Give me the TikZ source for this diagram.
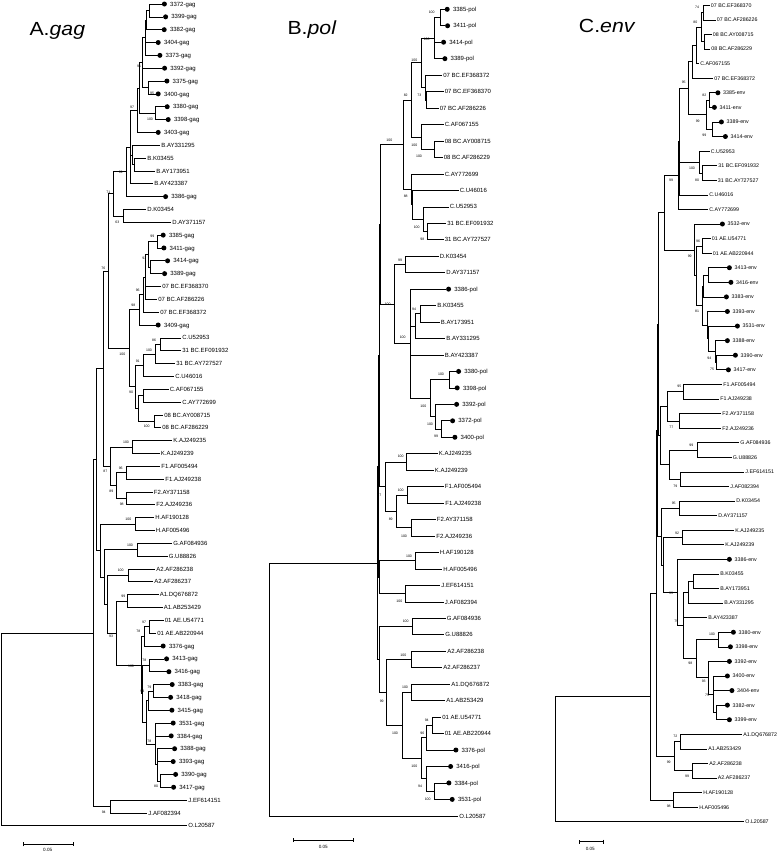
\documentclass[tikz,border=0pt]{standalone}
\usepackage{fontspec}
\setmainfont{Liberation Sans}
\usetikzlibrary{calc,arrows.meta}

\tikzset{
  br/.style={line width=0.65pt},
  lfa/.style={anchor=west,inner sep=0pt,text height=4.3pt,text depth=0pt,font=\fontsize{6}{6}\selectfont},
  lfc/.style={lfa,text height=3.8pt,font=\fontsize{5.3}{5.3}\selectfont},
  bs/.style={inner sep=0pt,font=\fontsize{3.5}{3.5}\selectfont},
  sc/.style={inner sep=0pt,font=\fontsize{4.6}{4.6}\selectfont},
  dot/.style={circle,fill,inner sep=0pt,minimum size=5pt},
  ttl/.style={anchor=base west,inner sep=0pt,font=\fontsize{19}{19}\selectfont},
  bar/.style={br,{Bar[width=4pt]}-{Bar[width=4pt]}},
}

% clade: name, x of the node, children (first to last)
\newcommand\clade[3]{%
  \foreach \cld [count=\k] in {#3}{\ifnum\k=1 \xdef\cfirst{\cld}\fi\xdef\clast{\cld}}%
  \path ($(\cfirst)!.5!(\clast)$) coordinate (cmid);
  \coordinate (#1) at (#2,0 |- cmid);
  \foreach \cld in {#3}{\draw[br] (#1) |- (\cld);}%
}

\begin{document}
\begin{tikzpicture}[x=1pt,y=-1pt]
\useasboundingbox (0,0) rectangle (777,852);

\node[ttl] (ta) at (29.3,35) {\scalebox{1.12}[1]{A.\textit{gag}}};
\node[ttl] (tb) at (287.3,34.3) {\scalebox{1.12}[1]{B.\textit{pol}}};
\node[ttl] (tc) at (578.7,32.3) {\scalebox{1.12}[1]{C.\textit{env}}};

% A. gag
\foreach \x/\t/\d [count=\i] in {162/3372-gag/1, 163.2/3399-gag/1, 161.8/3382-gag/1, 155.8/3404-gag/1,
  157.5/3373-gag/1, 162.2/3392-gag/1, 164.5/3375-gag/1, 155.8/3400-gag/1, 164.8/3380-gag/1,
  165.8/3398-gag/1, 155.8/3403-gag/1, 160/B.AY331295/0, 146/B.K03455/0, 155/B.AY173951/0,
  153/B.AY423387/0, 163.2/3386-gag/1, 146/D.K03454/0, 171/D.AY371157/0, 160.8/3385-gag/1,
  161.5/3411-gag/1, 165.2/3414-gag/1, 162.2/3389-gag/1, 161/07 BC.EF368370/0, 157/07 BC.AF286226/0,
  159/07 BC.EF368372/0, 155.8/3409-gag/1, 181/C.U52953/0, 181/31 BC.EF091932/0, 175/31 BC.AY727527/0,
  174/C.U46016/0, 168.5/C.AF067155/0, 181/C.AY772699/0, 163/08 BC.AY008715/0, 161/08 BC.AF286229/0,
  172/K.AJ249235/0, 159.5/K.AJ249239/0, 160/F1.AF005494/0, 164/F1.AJ249238/0, 152.5/F2.AY371158/0,
  155/F2.AJ249236/0, 154/H.AF190128/0, 154.5/H.AF005496/0, 172/G.AF084936/0, 167.5/G.U88826/0,
  155/A2.AF286238/0, 153/A2.AF286237/0, 158.5/A1.DQ676872/0, 162.5/A1.AB253429/0,
  163.5/01 AE.U54771/0, 156/01 AE.AB220944/0, 160.8/3376-gag/1, 164.2/3413-gag/1, 166.5/3416-gag/1,
  169.8/3383-gag/1, 168.2/3418-gag/1, 169.5/3415-gag/1, 170.8/3531-gag/1, 168.8/3384-gag/1,
  172.2/3388-gag/1, 170.8/3393-gag/1, 173.2/3390-gag/1, 171.2/3417-gag/1, 187/J.EF614151/0,
  147/J.AF082394/0, 187/O.L20587/0} {
  \coordinate (a\i) at (\x,{4+(\i-1)*12.84});
  \ifnum\d=1
    \node[dot] (da\i) at ([xshift=2.4pt]a\i) {};
    \node[lfa,xshift=8pt] (la\i) at (a\i) {\t};
  \else
    \node[lfa,xshift=1.2pt] (la\i) at (a\i) {\t};
  \fi
}
\clade{an1}{149}{a1,a2}
\clade{an2}{146.7}{an1,a3}
\clade{an3}{145.3}{an2,a4,a5}
\clade{an5}{148}{a7,a8}
\clade{an4}{142.7}{an3,a6,an5}
\clade{an8}{155.7}{a9,a10}
\clade{an9}{139.3}{an4,an8}
\clade{an10}{137.7}{an9,a11}
\clade{anb1}{134.3}{a13,a14}
\clade{anb2}{132.3}{a12,anb1}
\clade{an11}{130}{an10,anb2,a15}
\clade{an12}{126.7}{an11,a16}
\clade{adg}{123.3}{a17,a18}
\clade{an13}{113.3}{an12,adg}
\clade{anc1}{157.7}{a19,a20}
\clade{anc2}{150}{a21,a22}
\clade{anc3}{148}{anc1,anc2}
\clade{anc4}{145.7}{anc3,a23,a24}
\clade{anc5}{143.3}{anc4,a25}
\clade{anc6}{139.3}{anc5,a26}
\clade{acc1}{160}{a27,a28}
\clade{acc2}{155.7}{acc1,a29}
\clade{acc3}{143.3}{acc2,a30}
\clade{acc4}{143.3}{a31,a32}
\clade{acc5}{154.3}{a33,a34}
\clade{acc6}{138.7}{acc4,acc5}
\clade{acc7}{135.3}{acc3,acc6}
\clade{abc}{129}{anc6,acc7}
\clade{an14}{108.3}{an13,abc}
\clade{ak}{132.3}{a35,a36}
\clade{af1}{126}{a37,a38}
\clade{af2}{126.7}{a39,a40}
\clade{af}{116.7}{af1,af2}
\clade{akf}{110}{ak,af}
\clade{an15}{103}{an14,akf}
\clade{ah}{135.7}{a41,a42}
\clade{ag}{137.3}{a43,a44}
\clade{aa2}{128.3}{a45,a46}
\clade{aa1}{127.7}{a47,a48}
\clade{aae}{149.3}{a49,a50}
\clade{aae2}{144.3}{aae,a51}
\clade{as1}{149}{a52,a53}
\clade{as2}{153.3}{a54,a55}
\clade{as3}{148}{as2,a56}
\clade{as5}{160.7}{a61,a62}
\clade{as6}{157}{a59,a60,as5}
\clade{as7}{155}{a57,a58,as6}
\clade{as8}{146}{as3,as7}
\clade{as9}{142.5}{as1,as8}
\clade{aael}{141.7}{aae2,as9}
\clade{aa1ae}{116.7}{aa1,aael}
\clade{aa12}{107}{aa2,aa1ae}
\clade{aga}{104.7}{ag,aa12}
\clade{alow}{100.7}{ah,aga}
\clade{amain}{96.7}{an15,alow}
\clade{aj}{110}{a63,a64}
\clade{ain}{93.3}{amain,aj}
\clade{aroot}{1}{ain,a65}
\foreach \x/\y/\t [count=\i] in {139/66.7/91, 152/93.3/95, 150/119/100, 132/107.3/97, 120.7/172.3/99,
  108.3/192.3/71, 117.3/222/63, 152.3/236.7/99, 144.3/258.3/93, 137.7/290.7/96, 133.3/305.7/98,
  122.3/354/100, 103.3/268.3/76, 154/340/86, 149/350/100, 137.7/361/91, 131/392.3/90,
  146.7/426.7/100, 126/442.7/100, 105.3/471.7/87, 120.7/468.7/96, 111.3/491.3/89, 121.7/504.3/98,
  128.3/519.3/100, 130/545/100, 120.7/570.7/100, 123.3/596.7/99, 144/622.3/97, 138.3/631.7/78,
  111/636.7/93, 131/666.7/100, 144.3/660.7/78, 149.3/687.3/79, 142.3/691.7/94, 149.3/741.7/78,
  156/786.7/80, 103.7/812.7/94}
  \node[bs] (bsa\i) at (\x,\y) {\t};
\coordinate (sa1) at (23.3,844.3);
\coordinate (sa2) at (73.3,844.3);
\draw[bar] (sa1) -- (sa2);
\node[sc] (sla) at (47.7,849.5) {0.05};

% B. pol
\foreach \x/\t/\d [count=\i] in {444.8/3385-pol/1, 445.2/3411-pol/1, 441.2/3414-pol/1, 442.5/3389-pol/1,
  442/07 BC.EF368372/0, 443.5/07 BC.EF368370/0, 438.5/07 BC.AF286226/0, 443.5/C.AF067155/0,
  443.5/08 BC.AY008715/0, 442.5/08 BC.AF286229/0, 443.5/C.AY772699/0, 458.5/C.U46016/0,
  448.5/C.U52953/0, 446/31 BC.EF091932/0, 443.5/31 BC.AY727527/0, 438.5/D.K03454/0,
  445/D.AY371157/0, 446.2/3386-pol/1, 436/B.K03455/0, 439.5/B.AY173951/0, 445/B.AY331295/0,
  443.5/B.AY423387/0, 456.2/3380-pol/1, 454.8/3398-pol/1, 454.2/3392-pol/1, 450.2/3372-pol/1,
  452.5/3400-pol/1, 437.5/K.AJ249235/0, 433.5/K.AJ249239/0, 443.5/F1.AF005494/0, 444/F1.AJ249238/0,
  435.5/F2.AY371158/0, 435/F2.AJ249236/0, 438.5/H.AF190128/0, 442/H.AF005496/0, 440/J.EF614151/0,
  443.5/J.AF082394/0, 445.5/G.AF084936/0, 444/G.U88826/0, 446/A2.AF286238/0, 442/A2.AF286237/0,
  450/A1.DQ676872/0, 445/A1.AB253429/0, 441/01 AE.U54771/0, 443.5/01 AE.AB220944/0,
  453.5/3376-pol/1, 448.2/3416-pol/1, 446.5/3384-pol/1, 449.8/3531-pol/1, 458/O.L20587/0} {
  \coordinate (b\i) at (\x,{9.3+(\i-1)*16.46});
  \ifnum\d=1
    \node[dot] (db\i) at ([xshift=2.4pt]b\i) {};
    \node[lfa,xshift=8pt] (lb\i) at (b\i) {\t};
  \else
    \node[lfa,xshift=1.2pt] (lb\i) at (b\i) {\t};
  \fi
}
\clade{bp1}{440}{b1,b2}
\clade{bp2}{434}{bp1,b3,b4}
\clade{bp3a}{426.7}{b6,b7}
\clade{bp3}{425.3}{b5,bp3a}
\clade{bp4}{421.7}{bp2,bp3}
\clade{bp5}{434}{b9,b10}
\clade{bp6}{421.7}{b8,bp5}
\clade{bp7}{411.7}{bp4,bp6}
\clade{bp8}{427.7}{b14,b15}
\clade{bp9}{423.3}{b13,bp8}
\clade{bp10}{412.3}{b12,bp9}
\clade{bp11}{411}{b11,bp10}
\clade{bp12}{403.3}{bp7,bp11}
\clade{bdg}{405.7}{b16,b17}
\clade{bk}{420}{b19,b20}
\clade{bk2}{415.7}{bk,b21}
\clade{bq1}{449}{b23,b24}
\clade{bq2}{441}{b26,b27}
\clade{bq3}{435.7}{b25,bq2}
\clade{bq4}{430}{bq1,bq3}
\clade{bb}{410}{b18,bk2,b22,bq4}
\clade{bdb}{394.3}{bdg,bb}
\clade{bp13}{380}{bp12,bdb}
\clade{bkk}{406.7}{b28,b29}
\clade{bf1}{407.7}{b30,b31}
\clade{bf2}{411}{b32,b33}
\clade{bf}{396}{bf1,bf2}
\clade{bkf}{385}{bkk,bf}
\clade{bu}{379.3}{bp13,bkf}
\clade{bh}{415.3}{b34,b35}
\clade{bj}{405.7}{b36,b37}
\clade{bhj}{379.3}{bh,bj}
\clade{bx}{378.7}{bu,bhj}
\clade{bg}{412.7}{b38,b39}
\clade{ba2}{411}{b40,b41}
\clade{ba1}{411.7}{b42,b43}
\clade{bae1}{432.3}{b44,b45}
\clade{bae2}{426.7}{bae1,b46}
\clade{bq5}{434}{b48,b49}
\clade{bq6}{426.7}{b47,bq5}
\clade{bq7}{421.7}{bae2,bq6}
\clade{ba1ae}{402.3}{ba1,bq7}
\clade{ba12}{386.7}{ba2,ba1ae}
\clade{bga}{379}{bg,ba12}
\clade{bin}{377.7}{bx,bga}
\clade{broot}{269}{bin,b50}
\foreach \x/\y/\t [count=\i] in {431.7/12.7/100, 426.7/39.3/100, 419.3/95/73, 414.3/60/100,
  419/156.7/100, 414.3/145.7/100, 405.7/95.7/82, 416.7/227.3/100, 422.3/239.3/98, 405.7/196.7/88,
  389.3/140/100, 400/260/99, 414/309/94, 441/374.3/100, 430/424/100, 436/436.7/99, 423.3/406/100,
  402.7/337.3/100, 387.7/304.3/100, 400.7/456.7/100, 400.7/490/100, 404/536/100, 390.7/519.3/89,
  379.3/495/87, 409/556/100, 399.3/601/100, 405.7/621.7/100, 403.3/655/100, 405/687.7/100,
  426.7/720/94, 422.3/733.3/96, 427.7/799.3/100, 420/786.7/94, 414.3/766.7/100, 395/733.3/100,
  381.7/701.7/99}
  \node[bs] (bsb\i) at (\x,\y) {\t};
\coordinate (sb1) at (293.3,840);
\coordinate (sb2) at (353.3,840);
\draw[bar] (sb1) -- (sb2);
\node[sc] (slb) at (323.3,847.3) {0.05};

% C. env
\foreach \x/\t/\d [count=\i] in {709.5/07 BC.EF368370/0, 715.5/07 BC.AF286226/0, 711.5/08 BC.AY008715/0,
  710/08 BC.AF286229/0, 699/C.AF067155/0, 713/07 BC.EF368372/0, 715.5/3385-env/1, 712/3411-env/1,
  719/3389-env/1, 723/3414-env/1, 709.5/C.U52953/0, 717/31 BC.EF091932/0, 716.5/31 BC.AY727527/0,
  708/C.U46016/0, 708/C.AY772699/0, 720/3532-env/1, 710.5/01 AE.U54771/0, 711.5/01 AE.AB220944/0,
  727/3413-env/1, 728.5/3416-env/1, 724/3383-env/1, 725/3393-env/1, 735/3531-env/1, 725/3388-env/1,
  733/3390-env/1, 726/3417-env/1, 722/F1.AF005494/0, 719/F1.AJ249238/0, 721/F2.AY371158/0,
  721/F2.AJ249236/0, 739/G.AF084936/0, 731.5/G.U88826/0, 744/J.EF614151/0, 729/J.AF082394/0,
  735/D.K03454/0, 717/D.AY371157/0, 734/K.AJ249235/0, 724/K.AJ249239/0, 727/3386-env/1,
  719/B.K03455/0, 719/B.AY173951/0, 723/B.AY331295/0, 707/B.AY423387/0, 731/3380-env/1,
  728/3398-env/1, 727/3392-env/1, 725/3400-env/1, 729.5/3404-env/1, 725/3382-env/1, 727/3399-env/1,
  742/A1.DQ676872/0, 707/A1.AB253429/0, 708/A2.AF286238/0, 716.5/A2.AF286237/0, 702/H.AF190128/0,
  698/H.AF005496/0, 744/O.L20587/0} {
  \coordinate (c\i) at (\x,{5.3+(\i-1)*14.58});
  \ifnum\d=1
    \node[dot] (dc\i) at ([xshift=2.4pt]c\i) {};
    \node[lfc,xshift=7.5pt] (lc\i) at (c\i) {\t};
  \else
    \node[lfc,xshift=1.2pt] (lc\i) at (c\i) {\t};
  \fi
}
\clade{ce1}{703.7}{c1,c2}
\clade{ce2}{704.3}{c3,c4}
\clade{ce3}{701}{ce1,ce2}
\clade{ce4}{696.3}{ce3,c5}
\clade{ce5}{692.7}{ce4,c6}
\clade{ce6}{709.3}{c7,c8}
\clade{ce7}{712.7}{c9,c10}
\clade{ce8}{706.3}{ce6,ce7}
\clade{ce9}{688.7}{ce5,ce8}
\clade{ce10}{702.7}{c12,c13}
\clade{ce11}{699.3}{c11,ce10}
\clade{ce12}{679.3}{ce9,ce11,c14}
\clade{ce13}{678}{ce12,c15}
\clade{cae}{702.7}{c17,c18}
\clade{cs1}{708}{c19,c20}
\clade{cs2}{703.7}{cs1,c21}
\clade{cs3}{716.3}{c25,c26}
\clade{cs4}{715.3}{c24,cs3}
\clade{cs5}{708}{c23,cs4}
\clade{cs6}{707}{c22,cs5}
\clade{cs7}{702.7}{cs2,cs6}
\clade{cx}{696.3}{cae,cs7}
\clade{ce15}{694.7}{c16,cx}
\clade{ce16}{664.7}{ce13,ce15}
\clade{cf1}{683.7}{c27,c28}
\clade{cf2}{679.3}{c29,c30}
\clade{cf}{667.7}{cf1,cf2}
\clade{cg}{697}{c31,c32}
\clade{cj}{680.3}{c33,c34}
\clade{cgj}{669.7}{cg,cj}
\clade{cfgj}{660.3}{cf,cgj}
\clade{cdg}{679.3}{c35,c36}
\clade{ck}{682.7}{c37,c38}
\clade{cb1}{693}{c40,c41}
\clade{cb2}{688.7}{cb1,c42}
\clade{cq1}{718.7}{c44,c45}
\clade{cq2}{716}{c49,c50}
\clade{cq3}{713}{c47,c48,cq2}
\clade{cq4}{708.7}{c46,cq3}
\clade{cq5}{696}{cq1,cq4}
\clade{cq6}{683}{cb2,c43,cq5}
\clade{cq7}{677}{c39,cq6}
\clade{ckb}{663.7}{ck,cq7}
\clade{cdkb}{661}{cdg,ckb}
\clade{cm1}{658.7}{ce16,cfgj}
\clade{cm2}{657}{cm1,cdkb}
\clade{ca1}{680.3}{c51,c52}
\clade{ca2}{692.7}{c53,c54}
\clade{ca}{674.3}{ca1,ca2}
\clade{ch}{673}{c55,c56}
\clade{cma}{656.3}{cm2,ca}
\clade{cin}{650.3}{cma,ch}
\clade{croot}{555.3}{cin,c57}
\foreach \x/\y/\t [count=\i] in {697/7.3/74, 695.3/22.3/80, 683.7/82.7/95, 704.3/95/82, 697.7/121/99,
  704.3/135/99, 692/168.3/100, 697/180.7/80, 671/180/99, 698/241/96, 689.7/256/99, 697/311.7/81,
  709.3/358.3/94, 712/369.3/75, 679.3/386.7/95, 671.3/427.3/77, 691.3/445/99, 675.3/486/79,
  673.7/503.3/95, 677/533.3/92, 671/593.3/93, 676.3/621/75, 712/634/100, 690.3/663.3/98,
  703.7/681.7/93, 707/695/75, 675.3/736.7/72, 668.7/762.7/99, 687/776.7/99, 668.7/806.7/98}
  \node[bs] (bsc\i) at (\x,\y) {\t};
\coordinate (sc1) at (578.7,841.7);
\coordinate (sc2) at (603.7,841.7);
\draw[bar] (sc1) -- (sc2);
\node[sc] (slc) at (590.3,849.3) {0.05};
\end{tikzpicture}
\end{document}
